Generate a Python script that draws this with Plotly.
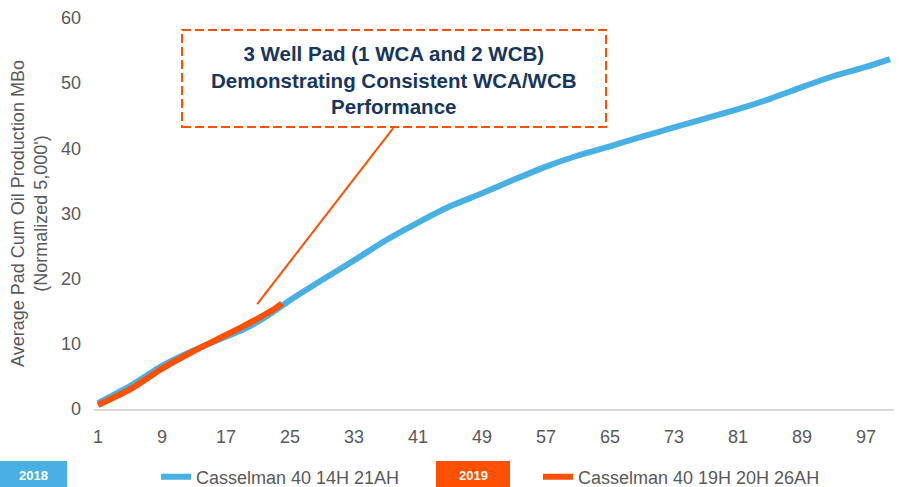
import plotly.graph_objects as go

# ---- data ----
blue_name = "Casselman 40 14H 21AH"
blue_x = [1, 5, 9, 13, 17, 19, 21, 23, 25, 29, 33, 37, 41, 45, 49, 53, 57, 61,
          65, 69, 73, 77, 81, 85, 89, 93, 97, 100]
blue_y = [0.9, 3.5, 6.6, 9.0, 11.1, 12.1, 13.4, 15.0, 16.7, 19.8, 22.8, 25.9,
          28.6, 31.1, 33.1, 35.2, 37.2, 38.9, 40.3, 41.8, 43.2, 44.6, 46.0,
          47.6, 49.4, 51.1, 52.5, 53.7]

orange_name = "Casselman 40 19H 20H 26AH"
orange_x = [1, 5, 9, 13, 17, 19, 21, 23, 24]
orange_y = [0.6, 3.0, 6.2, 8.9, 11.35, 12.6, 13.9, 15.3, 16.2]

x_tick_vals = [1, 9, 17, 25, 33, 41, 49, 57, 65, 73, 81, 89, 97]
x_tick_text = [str(v) for v in x_tick_vals]
y_tick_vals = [0, 10, 20, 30, 40, 50, 60]

y_title = "Average Pad Cum Oil Production MBo<br>(Normalized 5,000')"
callout_text = ("3 Well Pad (1 WCA and 2 WCB)<br>"
                "Demonstrating Consistent WCA/WCB<br>Performance")
year_labels = ["2018", "2019"]

# ---- style ----
BLUE = "#48B0E3"
ORANGE = "#FF5000"
NAVY = "#17365D"
GRAY = "#595959"
FONT = "Liberation Sans, Arial, sans-serif"

W, H = 903, 487
ML, MR, MT, MB = 94, 9, 18, 78
PW, PH = W - ML - MR, H - MT - MB


def px_x(p):  # pixel -> paper x
    return (p - ML) / PW


def px_y(p):  # pixel -> paper y
    return (H - MB - p) / PH


fig = go.Figure()
fig.add_trace(go.Scatter(x=blue_x, y=blue_y, mode="lines", name=blue_name,
                         line=dict(color=BLUE, width=6, shape="spline", smoothing=0.7)))
fig.add_trace(go.Scatter(x=orange_x, y=orange_y, mode="lines", name=orange_name,
                         line=dict(color=ORANGE, width=6, shape="spline", smoothing=0.7)))

# callout box, text and pointer
fig.add_shape(type="rect", xref="x", yref="y", x0=11.5, x1=64.5, y0=43.27, y1=58.15,
              line=dict(color=ORANGE, width=2, dash="9px,4px"), fillcolor="rgba(0,0,0,0)")
fig.add_shape(type="line", xref="x", yref="y", x0=37.9, y0=43.1, x1=20.9, y1=16.1,
              line=dict(color=ORANGE, width=2))
fig.add_annotation(x=38.0, y=50.5, xref="x", yref="y", text=callout_text,
                   showarrow=False, xanchor="center", yanchor="middle",
                   font=dict(family=FONT, size=20.5, color=NAVY, weight="bold"))

# year tags at the bottom
for label, color, (x0, x1) in zip(year_labels, [BLUE, ORANGE], [(0, 67), (436, 510)]):
    fig.add_shape(type="rect", xref="paper", yref="paper",
                  x0=px_x(x0), x1=px_x(x1), y0=px_y(487), y1=px_y(461),
                  line=dict(width=0), fillcolor=color, layer="above")
    fig.add_annotation(xref="paper", yref="paper", x=px_x((x0 + x1) / 2), y=px_y(475),
                       text=label, showarrow=False, xanchor="center", yanchor="middle",
                       font=dict(family=FONT, size=13, color="white", weight="bold"))

fig.update_layout(
    width=W, height=H,
    margin=dict(l=ML, r=MR, t=MT, b=MB, autoexpand=False),
    paper_bgcolor="white", plot_bgcolor="white",
    font=dict(family=FONT, size=18, color=GRAY),
    showlegend=True,
    legend=dict(orientation="h", xref="container", yref="container",
                x=156 / W, y=(H - 477) / H, xanchor="left", yanchor="middle",
                entrywidth=337, font=dict(family=FONT, size=18, color=GRAY),
                bgcolor="rgba(0,0,0,0)", borderwidth=0),
    xaxis=dict(range=[0.5, 100.5], tickvals=x_tick_vals, ticktext=x_tick_text,
               showgrid=False, zeroline=False, showline=True, linecolor="#D9D9D9",
               linewidth=2, ticks="", ticklabelstandoff=10,
               tickfont=dict(family=FONT, size=18, color=GRAY), automargin=False),
    yaxis=dict(range=[0, 60], tickvals=y_tick_vals, showgrid=False, zeroline=False,
               showline=False, ticks="", ticklabelstandoff=12,
               tickfont=dict(family=FONT, size=18, color=GRAY), automargin=False,
               title=dict(text=y_title, standoff=8,
                          font=dict(family=FONT, size=18, color=GRAY))),
)

fig.write_html("out.html",
               config={"displayModeBar": False},
               post_script="document.body.style.margin='0';"
                           "document.body.style.overflow='hidden';")
